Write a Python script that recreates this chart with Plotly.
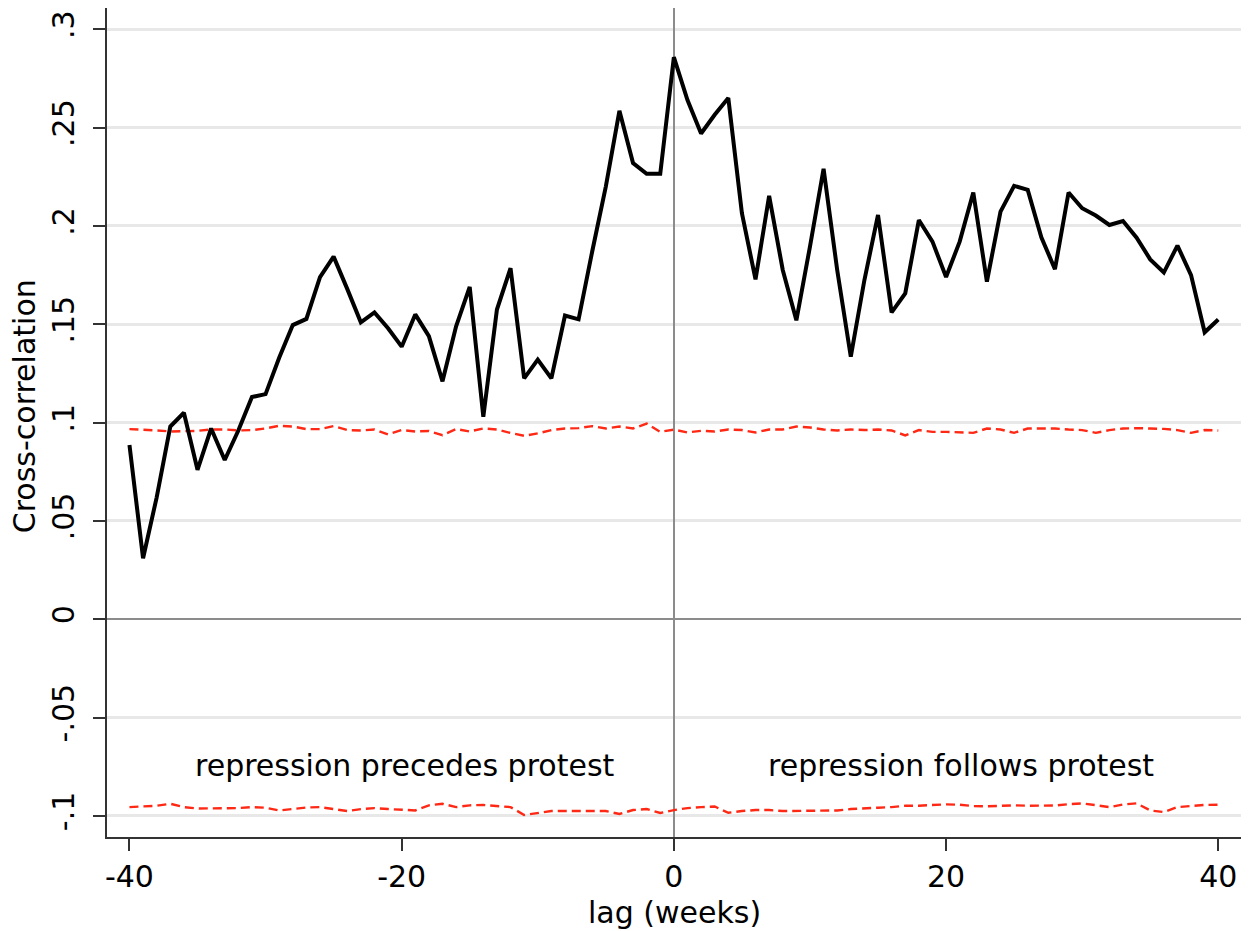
import plotly.graph_objects as go

lags = list(range(-40, 41))

cross_corr = [
    0.0886, 0.031, 0.062, 0.098, 0.105, 0.076, 0.097, 0.081, 0.096, 0.113,
    0.1145, 0.133, 0.1496, 0.1527, 0.174, 0.1844, 0.168, 0.151, 0.156, 0.148,
    0.1386, 0.155, 0.144, 0.121, 0.149, 0.169, 0.103, 0.1575, 0.1785, 0.1225,
    0.132, 0.1225, 0.1544, 0.1525, 0.187, 0.22, 0.2585, 0.232, 0.2265, 0.2265,
    0.2858,
    0.264, 0.247, 0.2565, 0.265, 0.2065, 0.1728, 0.2153, 0.1776, 0.152, 0.1895,
    0.229, 0.1776, 0.1335, 0.1725, 0.2056, 0.156, 0.1657, 0.203, 0.192, 0.174,
    0.192, 0.217, 0.1717, 0.2073, 0.2204, 0.2183, 0.1942, 0.178, 0.217, 0.209,
    0.2053, 0.2005, 0.2025, 0.194, 0.183, 0.1763, 0.19, 0.175, 0.1459, 0.1524,
]

upper_ci = [
    0.0967, 0.0965, 0.096, 0.0955, 0.0955, 0.0958, 0.0965, 0.0965, 0.096, 0.0962,
    0.097, 0.0984, 0.098, 0.0967, 0.0967, 0.0982, 0.0962, 0.096, 0.0965, 0.094,
    0.0962, 0.0955, 0.0957, 0.0936, 0.0967, 0.0955, 0.097, 0.0965, 0.0947, 0.0933,
    0.0945, 0.0962, 0.097, 0.0972, 0.0982, 0.097, 0.098, 0.097, 0.0995, 0.0953,
    0.0964,
    0.095, 0.0958, 0.0955, 0.0965, 0.0962, 0.095, 0.0965, 0.0965, 0.098, 0.0975,
    0.0965, 0.096, 0.0965, 0.0962, 0.0965, 0.096, 0.0935, 0.0962, 0.0953, 0.0953,
    0.095, 0.0948, 0.097, 0.0965, 0.0948, 0.097, 0.097, 0.097, 0.0965, 0.0962,
    0.0948, 0.0962, 0.097, 0.0972, 0.097, 0.0968, 0.0962, 0.0948, 0.0962, 0.096,
]

lower_ci = [
    -0.0955, -0.0952, -0.0948, -0.0938, -0.0955, -0.0962, -0.0962, -0.0963, -0.096, -0.0955,
    -0.0958, -0.0972, -0.0965, -0.0957, -0.0955, -0.0965, -0.0975, -0.0965, -0.096, -0.0965,
    -0.0968, -0.0972, -0.0946, -0.0938, -0.0955, -0.0946, -0.0944, -0.095, -0.0955, -0.0995,
    -0.0985, -0.0975, -0.0975, -0.0975, -0.0975, -0.0975, -0.099, -0.097, -0.0965, -0.0985,
    -0.097,
    -0.096, -0.0955, -0.0952, -0.0984, -0.0975, -0.097, -0.097, -0.0975, -0.0975, -0.0975,
    -0.0975, -0.0972, -0.0965, -0.096, -0.0958, -0.0955, -0.0948, -0.0948, -0.0944, -0.0941,
    -0.0943, -0.095, -0.0951, -0.0948, -0.0946, -0.0948, -0.0946, -0.0947, -0.094, -0.0936,
    -0.0945, -0.0955, -0.0942, -0.0936, -0.0972, -0.098, -0.0955, -0.0948, -0.0944, -0.0943,
]

y_tickvals = [0.3, 0.25, 0.2, 0.15, 0.1, 0.05, 0, -0.05, -0.1]
y_ticktext = [".3", ".25", ".2", ".15", ".1", ".05", "0", "-.05", "-.1"]
x_tickvals = [-40, -20, 0, 20, 40]
x_ticktext = ["-40", "-20", "0", "20", "40"]

FONT = "DejaVu Sans"
RED = "rgb(255,40,20)"

fig = go.Figure()
fig.add_trace(go.Scatter(x=lags, y=upper_ci, mode="lines",
                         line=dict(color=RED, width=2.4, dash="9px,5px"),
                         showlegend=False, hoverinfo="skip"))
fig.add_trace(go.Scatter(x=lags, y=lower_ci, mode="lines",
                         line=dict(color=RED, width=2.4, dash="9px,5px"),
                         showlegend=False, hoverinfo="skip"))
fig.add_trace(go.Scatter(x=lags, y=cross_corr, mode="lines",
                         line=dict(color="black", width=4),
                         showlegend=False))

fig.update_layout(
    width=1249, height=931,
    margin=dict(l=107, r=8, t=8, b=94),
    paper_bgcolor="white", plot_bgcolor="white",
    font=dict(family=FONT, size=30, color="black"),
    xaxis=dict(
        range=[-41.65, 41.67],
        tickvals=x_tickvals, ticktext=x_ticktext,
        showgrid=False,
        zeroline=True, zerolinecolor="#8c8c8c", zerolinewidth=2,
        showline=True, linecolor="#333333", linewidth=2,
        ticks="outside", ticklen=12, tickwidth=2, tickcolor="#333333",
        tickfont=dict(family=FONT, size=30, color="black"),
    ),
    yaxis=dict(
        range=[-0.1107, 0.3108],
        tickvals=y_tickvals, ticktext=y_ticktext,
        showgrid=True, gridcolor="#e8e8e8", gridwidth=3,
        zeroline=True, zerolinecolor="#8c8c8c", zerolinewidth=2,
        showline=True, linecolor="#333333", linewidth=2,
        ticks="outside", ticklen=12, tickwidth=2, tickcolor="#333333",
        tickangle=-90, ticklabelstandoff=7,
        tickfont=dict(family=FONT, size=30, color="black"),
    ),
    annotations=[
        dict(text="Cross-correlation", textangle=-90, xref="paper", yref="paper",
             x=-0.072, y=0.52, xanchor="center", yanchor="middle", showarrow=False,
             font=dict(family=FONT, size=30, color="black")),
        dict(text="lag (weeks)", xref="paper", yref="paper",
             x=0.5, y=-0.091, xanchor="center", yanchor="middle", showarrow=False,
             font=dict(family=FONT, size=30, color="black")),
        dict(text="repression precedes protest", xref="x", yref="y",
             x=-19.75, y=-0.0745, xanchor="center", yanchor="middle", showarrow=False,
             font=dict(family=FONT, size=30, color="black")),
        dict(text="repression follows protest", xref="x", yref="y",
             x=21.1, y=-0.0745, xanchor="center", yanchor="middle", showarrow=False,
             font=dict(family=FONT, size=30, color="black")),
    ],
)

fig.write_html("out.html")
